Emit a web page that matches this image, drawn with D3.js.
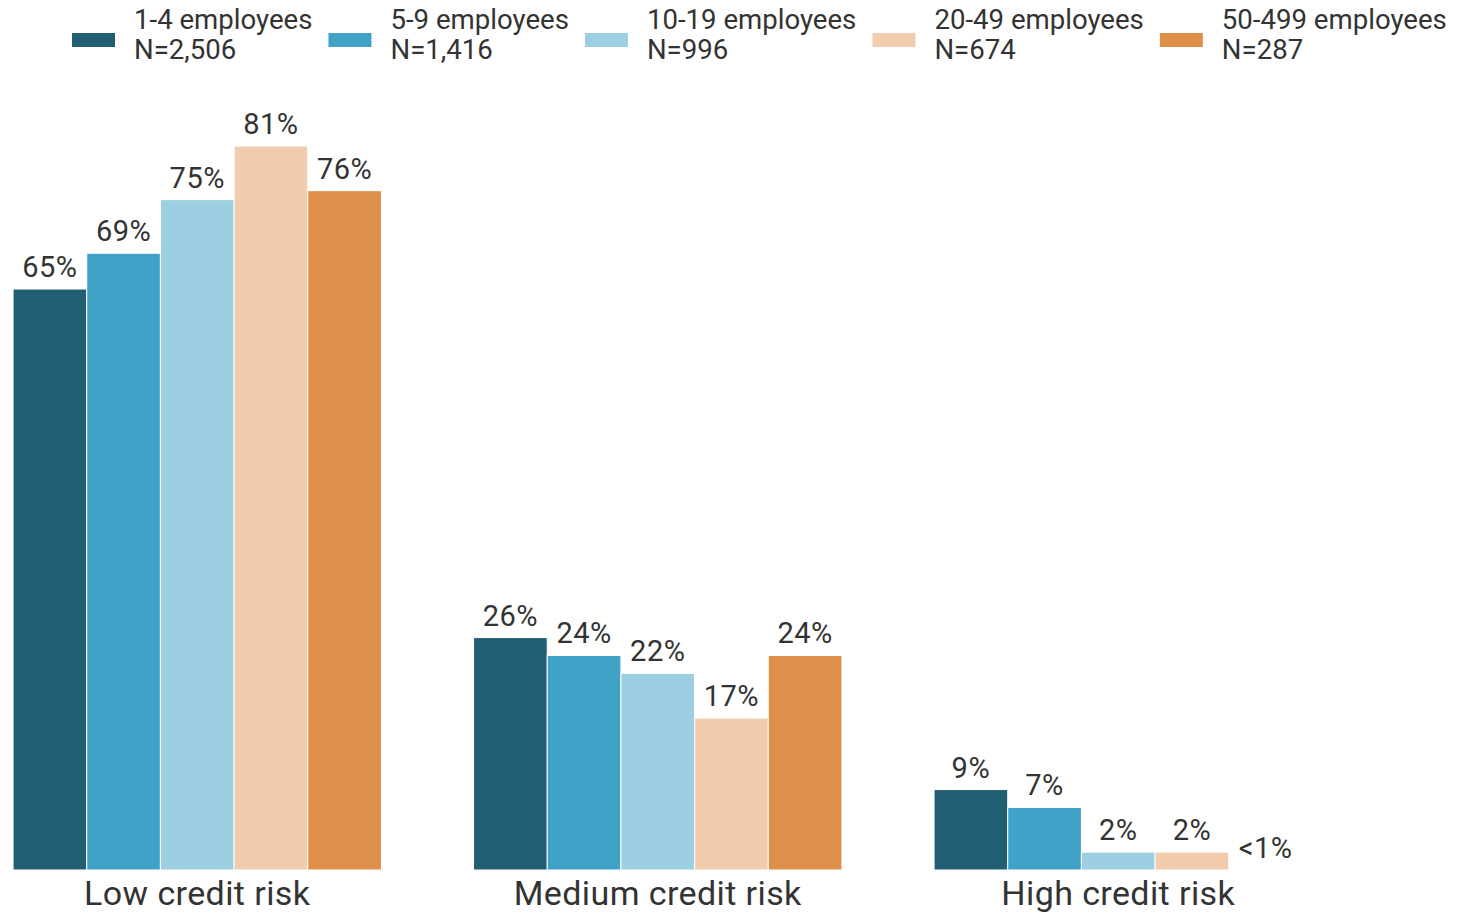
<!DOCTYPE html>
<html>
<head>
<meta charset="utf-8">
<script src="https://cdn.jsdelivr.net/npm/d3@7"></script>
<style>
  body { margin: 0; background: #fff; }
  svg { display: block; font-family: Roboto, "Noto Sans", sans-serif; }
</style>
</head>
<body>
<svg id="chart" width="1458" height="914"></svg>
<script>
// categories and series
var riskGroups = ["Low credit risk", "Medium credit risk", "High credit risk"];
var sizeClasses = ["1-4 employees", "5-9 employees", "10-19 employees", "20-49 employees", "50-499 employees"];
var sampleSizes = ["N=2,506", "N=1,416", "N=996", "N=674", "N=287"];
var lowRisk = [65, 69, 75, 81, 76];
var mediumRisk = [26, 24, 22, 17, 24];
var highRisk = [9, 7, 2, 2, 0];
var highRiskLabels = ["9%", "7%", "2%", "2%", "<1%"];
var palette = ["#215e74", "#41a2c8", "#9ccfe2", "#f1cdae", "#de904b"];

var svg = d3.select("#chart");
var baseY = 870;

var rows = [lowRisk, mediumRisk, highRisk];
var labelRows = [lowRisk.map(function (v) { return v + "%"; }),
                 mediumRisk.map(function (v) { return v + "%"; }),
                 highRiskLabels];

var x0 = d3.scaleBand().domain(riskGroups).range([-33, 1348.5]).paddingInner(0.2).paddingOuter(0.1);
var x1 = d3.scaleBand().domain(sizeClasses).range([0, x0.bandwidth()]);
var y = d3.scaleLinear().domain([0, 81]).range([baseY, 146]);
var color = d3.scaleOrdinal().domain(sizeClasses).range(palette);

var data = [];
riskGroups.forEach(function (g, i) {
    sizeClasses.forEach(function (s, j) {
        data.push({ group: g, size: s, value: rows[i][j], label: labelRows[i][j] });
    });
});

var g = svg.append("g");

g.selectAll("rect.bar")
    .data(data.filter(function (d) { return d.value > 0; }))
    .enter().append("rect")
    .attr("class", "bar")
    .attr("x", function (d) { return x0(d.group) + x1(d.size); })
    .attr("y", function (d) { return y(d.value); })
    .attr("width", x1.bandwidth())
    .attr("height", function (d) { return baseY - y(d.value); })
    .attr("fill", function (d) { return color(d.size); })
    .attr("stroke", "#fff")
    .attr("stroke-width", 1);

g.selectAll("text.val")
    .data(data)
    .enter().append("text")
    .attr("class", "val")
    .attr("x", function (d) { return x0(d.group) + x1(d.size) + x1.bandwidth() / 2; })
    .attr("y", function (d) { return y(d.value) - 12; })
    .attr("text-anchor", "middle")
    .attr("font-size", 29)
    .attr("letter-spacing", 0.5)
    .attr("fill", "#333")
    .text(function (d) { return d.label; });

g.selectAll("text.cat")
    .data(riskGroups)
    .enter().append("text")
    .attr("class", "cat")
    .attr("x", function (d) { return x0(d) + x0.bandwidth() / 2; })
    .attr("y", 905)
    .attr("text-anchor", "middle")
    .attr("font-size", 34)
    .attr("letter-spacing", 0.4)
    .attr("fill", "#333")
    .text(function (d) { return d; });

// legend, items laid out by text width
var legend = svg.append("g");
var lx = 72;
sizeClasses.forEach(function (s, i) {
    var item = legend.append("g").attr("transform", "translate(" + lx + ",0)");
    item.append("rect")
        .attr("x", 0).attr("y", 33)
        .attr("width", 43).attr("height", 14)
        .attr("fill", color(s));
    var t1 = item.append("text")
        .attr("x", 62).attr("y", 29)
        .attr("font-size", 27.6).attr("fill", "#333")
        .text(s);
    var t2 = item.append("text")
        .attr("x", 62).attr("y", 59)
        .attr("font-size", 27.6).attr("fill", "#333")
        .text(sampleSizes[i]);
    var w = Math.max(t1.node().getComputedTextLength(), t2.node().getComputedTextLength());
    lx += 62 + w + 16;
});
</script>
</body>
</html>
